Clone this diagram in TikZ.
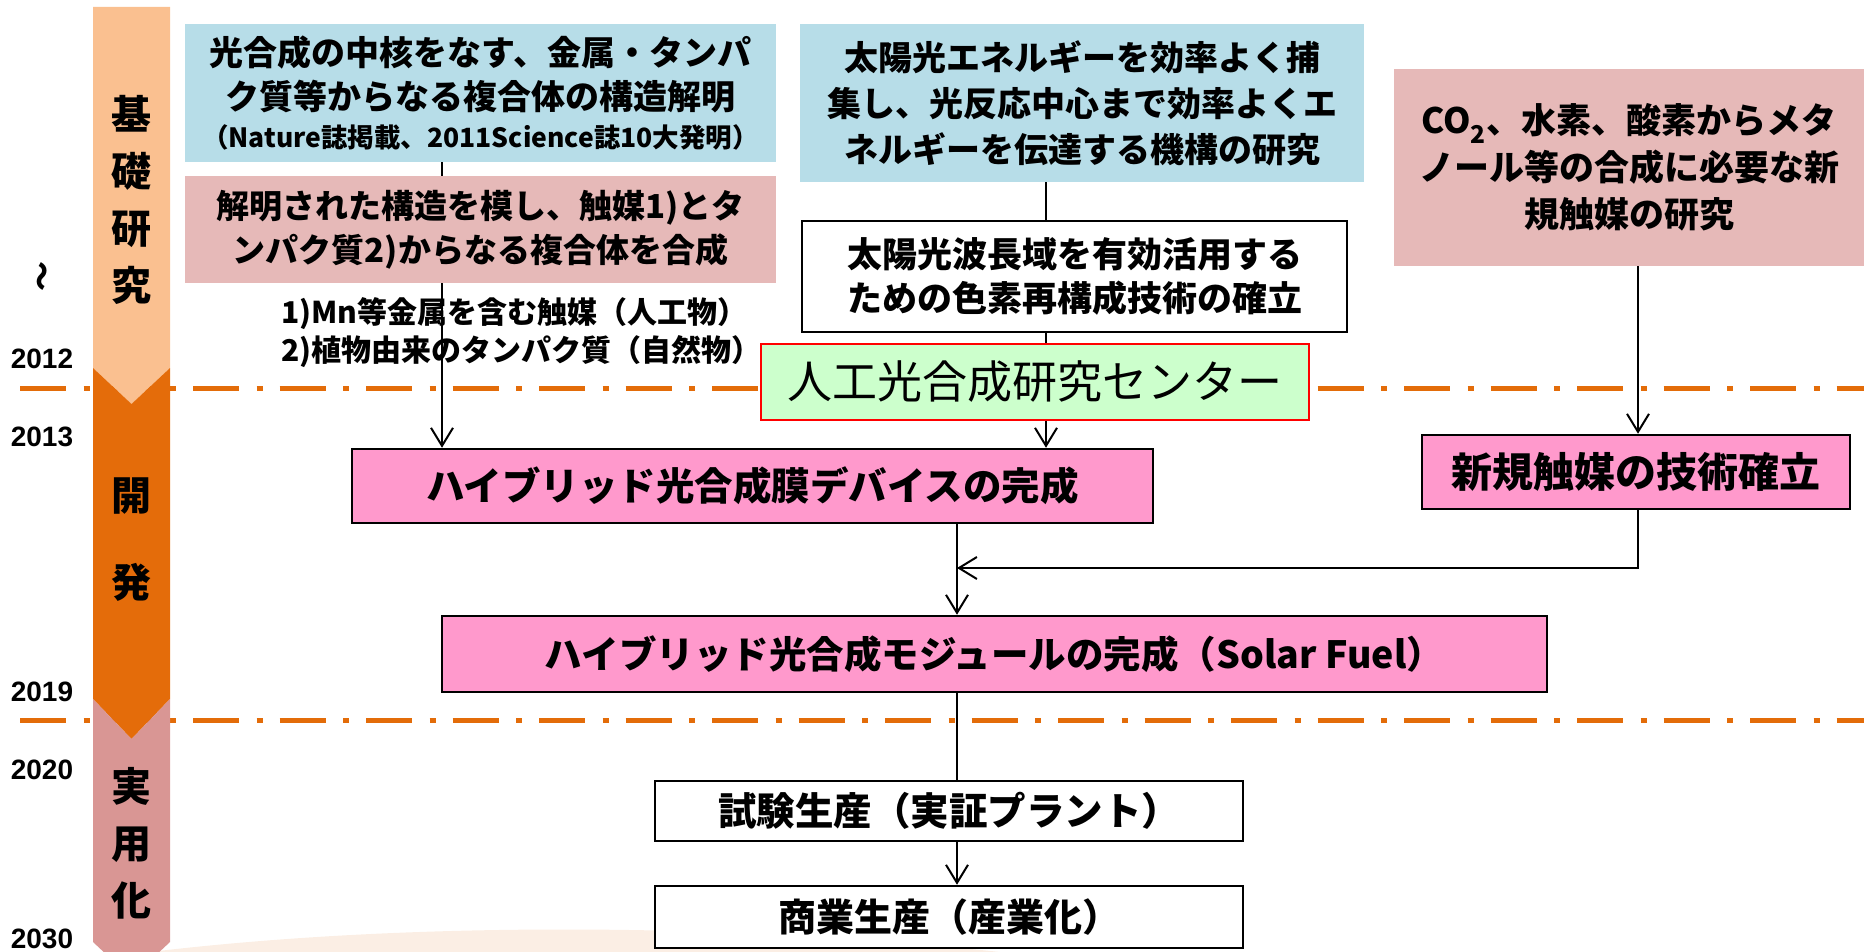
\documentclass[tikz,border=0pt]{standalone}
\usepackage{fontspec}
\setmainfont{Noto Sans CJK JP}
\newfontfamily\yr{Liberation Sans}
\usetikzlibrary{arrows.meta}
\definecolor{lblue}{HTML}{B7DDE8}
\definecolor{lrose}{HTML}{E6B9B8}
\definecolor{hpink}{HTML}{FF99CC}
\definecolor{lgreen}{HTML}{CCFFCC}
\definecolor{tlo}{HTML}{FAC090}
\definecolor{tdo}{HTML}{E46C0A}
\definecolor{tpk}{HTML}{D99694}
\definecolor{dashor}{HTML}{E36C09}
\definecolor{swoosh}{HTML}{FBEEE4}
\tikzset{
  bx/.style={rectangle, inner sep=0pt, align=center, font=\bfseries\fontsize{34}{44}\selectfont},
  framed/.style={draw=black, line width=2.5pt},
  conn/.style={line width=2pt, draw=black},
  arr/.style={conn, -{Straight Barb[length=18pt,width=22pt]}},
  dashline/.style={draw=dashor, line width=5pt, dash pattern=on 46pt off 17.5pt on 6pt off 17pt},
  yearlbl/.style={font=\yr\bfseries\fontsize{28}{28}\selectfont, inner sep=0pt},
  phase/.style={align=center, inner sep=0pt, font=\bfseries\fontsize{40}{57}\selectfont}
}
\begin{document}
\begin{tikzpicture}[x=1pt,y=-1pt]
\useasboundingbox (0,0) rectangle (1864,952);
% faint background swoosh
\fill[swoosh] (150,952) .. controls (400,922) and (720,922) .. (1000,952) -- cycle;
% period separators
\draw[dashline] (20,388) -- (1864,388);
\draw[dashline] (20,720) -- (1864,720);
% timeline bar
\fill[tlo] (93,7) -- (170,7) -- (170,368) -- (131.5,404) -- (93,368) -- cycle;
\fill[tdo] (93,368) -- (131.5,404) -- (170,368) -- (170,699) -- (131.5,739) -- (93,699) -- cycle;
\fill[tpk] (93,699) -- (131.5,739) -- (170,699) -- (170,942) -- (131.5,978) -- (93,942) -- cycle;
\node[phase] (p1) at (131.5,200) {基\\礎\\研\\究};
\node[phase, font=\bfseries\fontsize{40}{87}\selectfont] (p2) at (131.5,540) {開\\発};
\node[phase] (p3) at (131.5,843) {実\\用\\化};
% years
\node[yearlbl] (y12) at (42,359) {2012};
\node[yearlbl] (y13) at (42,437) {2013};
\node[yearlbl] (y19) at (42,692) {2019};
\node[yearlbl] (y20) at (42,770) {2020};
\node[yearlbl] (y30) at (42,939) {2030};
\node[inner sep=0pt, rotate=90, font=\bfseries\fontsize{30}{30}\selectfont] (wv) at (45,276) {～};
% boxes
\node[bx, fill=lblue, minimum width=591pt, minimum height=138pt] (a) at (480.5,93)
  {光合成の中核をなす、金属・タンパ\\ク質等からなる複合体の構造解明\\[-6pt]{\fontsize{26.5}{30}\selectfont （Nature誌掲載、2011Science誌10大発明）}};
\node[bx, fill=lrose, minimum width=591pt, minimum height=107pt, font=\bfseries\fontsize{33}{44}\selectfont] (b) at (480.5,229.5)
  {解明された構造を模し、触媒1)とタ\\ンパク質2)からなる複合体を合成};
\node[anchor=west, inner sep=0pt, align=left, font=\bfseries\fontsize{30}{38}\selectfont] (fn) at (281,333)
  {1)Mn等金属を含む触媒（人工物）\\2)植物由来のタンパク質（自然物）};
\node[bx, fill=lblue, minimum width=564pt, minimum height=158pt, font=\bfseries\fontsize{34}{46}\selectfont] (c) at (1082,103)
  {太陽光エネルギーを効率よく捕\\集し、光反応中心まで効率よくエ\\ネルギーを伝達する機構の研究};
\node[bx, framed, fill=white, minimum width=545pt, minimum height=111pt, font=\bfseries\fontsize{35}{44}\selectfont] (d) at (1074.5,276.5)
  {太陽光波長域を有効活用する\\ための色素再構成技術の確立};
\node[rectangle, inner sep=0pt, fill=lgreen, draw=red, line width=1.5pt, minimum width=548pt, minimum height=76pt, font=\fontsize{45}{50}\selectfont] (e) at (1035,382)
  {人工光合成研究センター};
\node[bx, fill=lrose, minimum width=470pt, minimum height=197pt, font=\bfseries\fontsize{35}{47}\selectfont] (h) at (1629,167.5)
  {CO\textsubscript{2}、水素、酸素からメタ\\ノール等の合成に必要な新\\規触媒の研究};
\node[bx, framed, fill=hpink, minimum width=801pt, minimum height=74pt, font=\bfseries\fontsize{38.5}{44}\selectfont] (f) at (752.5,486)
  {ハイブリッド光合成膜デバイスの完成};
\node[bx, framed, fill=hpink, minimum width=428pt, minimum height=74pt, font=\bfseries\fontsize{41}{44}\selectfont] (g) at (1636,472)
  {新規触媒の技術確立};
\node[bx, framed, fill=hpink, minimum width=1105pt, minimum height=76pt, font=\bfseries\fontsize{37.5}{44}\selectfont] (i) at (994.5,654)
  {ハイブリッド光合成モジュールの完成（Solar Fuel）};
\node[bx, framed, fill=white, minimum width=588pt, minimum height=60pt, font=\bfseries\fontsize{38.5}{44}\selectfont] (j) at (949,811)
  {試験生産（実証プラント）};
\node[bx, framed, fill=white, minimum width=588pt, minimum height=62pt, font=\bfseries\fontsize{38}{44}\selectfont] (k) at (949,917)
  {商業生産（産業化）};
% connector columns
\coordinate (xl) at (442,0);
\coordinate (xc) at (1046,0);
\coordinate (xr) at (1638,0);
\coordinate (xm) at (957,0);
\coordinate (jn) at (957,568);
% connectors
\draw[conn] (xl |- a.south) -- (xl |- b.north);
\draw[arr] (xl |- b.south) -- (xl |- f.north);
\draw[conn] (xc |- c.south) -- (xc |- d.north);
\draw[conn] (xc |- d.south) -- (xc |- e.north);
\draw[arr] (xc |- e.south) -- (xc |- f.north);
\draw[arr] (xr |- h.south) -- (xr |- g.north);
\draw[arr] (xr |- g.south) |- (jn);
\draw[arr] (xm |- f.south) -- (xm |- i.north);
\draw[conn] (xm |- i.south) -- (xm |- j.north);
\draw[arr] (xm |- j.south) -- (xm |- k.north);
\end{tikzpicture}
\end{document}
